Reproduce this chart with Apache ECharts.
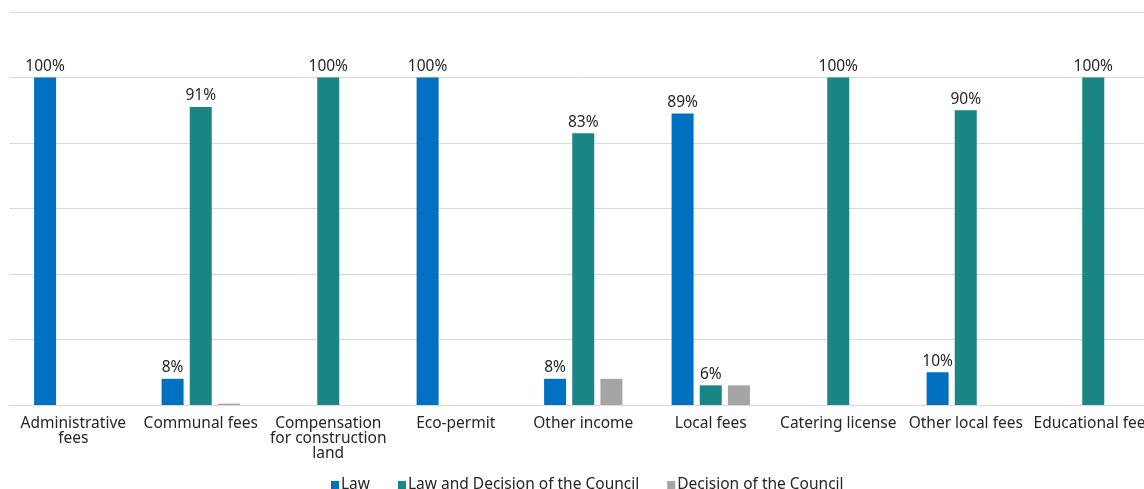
<!DOCTYPE html>
<html>
<head>
<meta charset="utf-8">
<script src="https://cdn.jsdelivr.net/npm/echarts@6/dist/echarts.min.js"></script>
<style>
  html, body { margin: 0; padding: 0; background: #fff; overflow: hidden; }
  /* the plot runs a little past the right edge of the window */
  #chart { width: 1160px; height: 489px; }
</style>
</head>
<body>
<div id="chart"></div>
<script>
// Revenue categories and the share (%) set by each legal basis
const categories = [
  'Administrative\nfees',
  'Communal fees',
  'Compensation\nfor construction\nland',
  'Eco-permit',
  'Other income',
  'Local fees',
  'Catering license',
  'Other local fees',
  'Educational fees'
];
const lawValues        = [100, 8, 0, 100, 8, 89, 0, 10, 0];
const lawCouncilValues = [0, 91, 100, 0, 83, 6, 100, 90, 100];
const councilValues    = [0, 0.4, 0, 0, 8, 6, 0, 0, 0];

const seriesNames = ['Law', 'Law and Decision of the Council', 'Decision of the Council'];
const seriesColors = ['#0070C0', '#1A8585', '#A5A5A5'];

const FONT = '"Noto Sans", sans-serif';
const FS = 15.5;

function pctLabel(show) {
  return {
    show: show,
    position: 'top',
    distance: 3,
    color: '#262626',
    fontFamily: FONT,
    fontSize: FS,
    formatter: p => (p.value > 0 ? p.value + '%' : '')
  };
}

function makeSeries(name, data, color, showLabel) {
  return {
    name: name,
    type: 'bar',
    // empty shares are left out so no sliver is drawn on the baseline
    data: data.map(v => (v > 0 ? v : '-')),
    barWidth: 22,
    barGap: '28%',
    itemStyle: { color: color },
    label: pctLabel(showLabel),
    emphasis: { disabled: true }
  };
}

const chart = echarts.init(document.getElementById('chart'));
chart.setOption({
  animation: false,
  color: seriesColors,
  grid: { left: 9.5, top: 12, width: 1147.5, height: 393, containLabel: false },
  legend: {
    top: 472,
    left: 326,
    icon: 'rect',
    itemWidth: 8,
    itemHeight: 8,
    itemGap: 28,
    textStyle: { color: '#262626', fontFamily: FONT, fontSize: FS, padding: [0, 0, 0, -3] },
    data: seriesNames
  },
  xAxis: {
    type: 'category',
    data: categories,
    axisTick: { show: false },
    axisLine: { lineStyle: { color: '#D9D9D9', width: 1 } },
    axisLabel: {
      interval: 0,
      color: '#262626',
      fontFamily: FONT,
      fontSize: FS,
      lineHeight: 15,
      margin: 11
    }
  },
  yAxis: {
    type: 'value',
    min: 0,
    max: 120,
    interval: 20,
    axisLabel: { show: false },
    axisLine: { show: false },
    axisTick: { show: false },
    splitLine: { lineStyle: { color: '#D9D9D9', width: 1 } }
  },
  series: [
    makeSeries(seriesNames[0], lawValues, seriesColors[0], true),
    makeSeries(seriesNames[1], lawCouncilValues, seriesColors[1], true),
    makeSeries(seriesNames[2], councilValues, seriesColors[2], false)
  ]
});
</script>
</body>
</html>
